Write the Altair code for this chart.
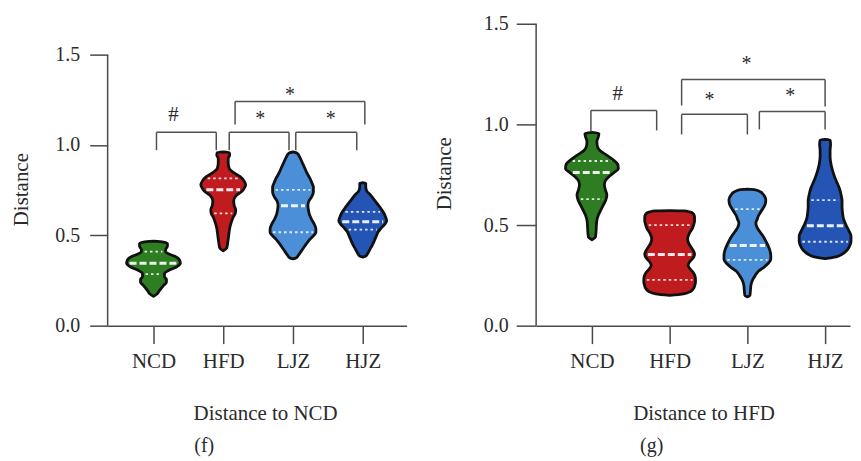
import altair as alt
import numpy as np
import pandas as pd

GROUPS = ["NCD", "HFD", "LJZ", "HJZ"]
COLORS = ["#2e7d22", "#c01c1f", "#4b8fd9", "#2454b4"]
Y_TICKS = [0.0, 0.5, 1.0, 1.5]

# ---------------- panel (f): Distance to NCD ----------------
# violin outlines: distance value -> relative half width (density)
f_ncd_v = [0.468, 0.463, 0.455, 0.44, 0.425, 0.41, 0.398, 0.385, 0.365, 0.345, 0.325, 0.305, 0.288, 0.272, 0.255, 0.24, 0.222, 0.205, 0.19, 0.175, 0.162]
f_ncd_w = [0, 10, 14, 14, 12.5, 12, 15, 21, 26, 27, 23, 15, 11, 11, 13, 13, 10, 7.5, 5.5, 3.5, 0]
f_hfd_v = [0.962, 0.958, 0.945, 0.925, 0.9, 0.87, 0.845, 0.825, 0.8, 0.78, 0.76, 0.745, 0.72, 0.69, 0.665, 0.64, 0.62, 0.6, 0.57, 0.54, 0.5, 0.46, 0.43, 0.414]
f_hfd_w = [0, 6, 6.5, 5, 5, 6, 11, 17, 21, 22.5, 21, 19, 13, 10.5, 11, 12.5, 12, 10, 8, 6.5, 5.5, 4.5, 3.5, 0]
f_ljz_v = [0.962, 0.955, 0.93, 0.9, 0.87, 0.845, 0.815, 0.79, 0.765, 0.74, 0.715, 0.69, 0.665, 0.64, 0.615, 0.59, 0.56, 0.535, 0.515, 0.495, 0.475, 0.45, 0.43, 0.41, 0.39, 0.375, 0.37]
f_ljz_w = [0, 4, 7, 9.5, 12, 14, 17, 19, 20.5, 20.5, 19, 16, 15, 15.5, 16.5, 18.5, 21.5, 23, 23, 20, 16.5, 13, 10.5, 8, 5.5, 3, 0]
f_hjz_v = [0.792, 0.788, 0.77, 0.745, 0.725, 0.7, 0.675, 0.65, 0.625, 0.6, 0.58, 0.56, 0.54, 0.52, 0.5, 0.475, 0.45, 0.425, 0.4, 0.385, 0.379]
f_hjz_w = [0, 3, 3, 4, 7.5, 11, 14.5, 18, 21, 23, 24, 22, 18.5, 15.5, 14, 12, 10, 7.5, 5, 3, 0]
# quartile lines (upper quartile, median, lower quartile)
f_quart = [[0.41, 0.345, 0.285], [0.815, 0.752, 0.622], [0.752, 0.664, 0.517], [0.63, 0.575, 0.531]]
# brackets: left end, right end, bar level, left leg bottom, right leg bottom
f_br_x1 = [0.043, 1.086, 2.04, 1.17]
f_br_x2 = [0.9, 1.943, 2.914, 3.03]
f_br_y = [1.07, 1.07, 1.07, 1.241]
f_br_b1 = [0.971, 0.971, 0.971, 1.114]
f_br_b2 = [0.971, 0.971, 0.971, 1.114]
f_sym = ["#", "*", "*", "*"]
f_sym_x = [0.286, 1.53, 2.54, 1.957]
f_sym_y = [1.172, 1.164, 1.164, 1.296]

# ---------------- panel (g): Distance to HFD ----------------
g_ncd_v = [0.96, 0.955, 0.94, 0.915, 0.89, 0.87, 0.85, 0.825, 0.8, 0.78, 0.76, 0.74, 0.72, 0.7, 0.675, 0.65, 0.625, 0.6, 0.575, 0.55, 0.525, 0.5, 0.46, 0.44, 0.427]
g_ncd_w = [0, 7, 6.5, 5, 5.5, 8, 14, 21, 26, 26.5, 22, 17, 13.5, 12.5, 13.5, 15, 14, 11.5, 9, 6.5, 5, 4.5, 4, 3.5, 0]
g_hfd_v = [0.572, 0.57, 0.565, 0.555, 0.54, 0.52, 0.5, 0.48, 0.465, 0.45, 0.43, 0.41, 0.39, 0.37, 0.355, 0.34, 0.32, 0.3, 0.285, 0.265, 0.245, 0.225, 0.205, 0.185, 0.17, 0.158, 0.15]
g_hfd_w = [0, 14, 20, 24, 25, 25, 24, 22.5, 20.5, 19, 18, 19, 21.5, 24, 25, 24, 20.5, 18.5, 20, 23.5, 25.5, 26, 25.5, 24, 21, 14, 0]
g_ljz_v = [0.678, 0.675, 0.665, 0.645, 0.625, 0.605, 0.585, 0.565, 0.545, 0.53, 0.51, 0.49, 0.47, 0.45, 0.425, 0.4, 0.375, 0.35, 0.33, 0.31, 0.29, 0.27, 0.25, 0.23, 0.2, 0.17, 0.15, 0.143]
g_ljz_w = [0, 8, 13, 17, 18.5, 18, 16, 13.5, 11, 10, 8.5, 9.5, 12, 15, 18, 20.5, 22.5, 23.5, 23.5, 21, 16.5, 11, 8, 5.5, 3.5, 3, 2.5, 0]
g_hjz_v = [0.926, 0.922, 0.9, 0.87, 0.84, 0.8, 0.77, 0.74, 0.71, 0.68, 0.65, 0.62, 0.59, 0.56, 0.53, 0.5, 0.47, 0.445, 0.42, 0.395, 0.375, 0.355, 0.342, 0.333]
g_hjz_w = [0, 5, 5.5, 5, 5, 6, 7.5, 9.5, 12, 14.5, 16, 17, 17, 17.5, 18.5, 21, 24, 26, 26, 24.5, 22, 17, 11, 0]
g_quart = [[0.818, 0.761, 0.629], [0.50, 0.353, 0.228], [0.579, 0.398, 0.327], [0.624, 0.497, 0.417]]
g_br_x1 = [-0.013, 1.154, 2.154, 1.154]
g_br_x2 = [0.833, 2.0, 3.0, 3.0]
g_br_y = [1.069, 1.05, 1.064, 1.223]
g_br_b1 = [0.965, 0.95, 0.975, 1.094]
g_br_b2 = [0.970, 0.95, 0.975, 1.089]
g_sym = ["#", "*", "*", "*"]
g_sym_x = [0.333, 1.513, 2.551, 1.987]
g_sym_y = [1.155, 1.139, 1.158, 1.317]

SERIF = "Liberation Serif"
INK = "#2b2b2b"
AXIS_GREY = "#4a4a4a"
AXIS_STYLE = dict(
    labelFont=SERIF, labelColor=INK, titleFont=SERIF, titleFontSize=21,
    titleFontWeight="normal", titleColor=INK, domainColor=AXIS_GREY,
    tickColor=AXIS_GREY, domainWidth=1.5, tickWidth=1.5, grid=False,
)


def panel(profiles, quart, brx1, brx2, bry, brb1, brb2, sym, symx, symy,
          ppu, xdom, ydom, width, height, xtitle, xtitle_xy, ytitle_xy,
          tick_y, lab_pad_y, label, label_xy):
    rows, qrows = [], []
    for i, (vals, wids) in enumerate(profiles):
        for v, w in zip(vals, wids):
            rows.append({"group": GROUPS[i], "v": v,
                         "left": i - w / ppu, "right": i + w / ppu})
        vv = np.array(vals[::-1])
        ww = np.array(wids[::-1])
        for j, q in enumerate(quart[i]):
            hw = max(float(np.interp(q, vv, ww)) - 3.0, 1.0) / ppu
            qrows.append({"group": GROUPS[i], "q": q, "kind": "median" if j == 1 else "quartile",
                          "l": i - hw, "r": i + hw})
    vdf = pd.DataFrame(rows)
    qdf = pd.DataFrame(qrows)

    seg = []
    for a, b, y, b1, b2 in zip(brx1, brx2, bry, brb1, brb2):
        seg.append({"x": a, "x2": b, "y": y, "y2": y})
        seg.append({"x": a, "x2": a, "y": b1, "y2": y})
        seg.append({"x": b, "x2": b, "y": b2, "y2": y})
    sdf = pd.DataFrame(seg)
    tdf = pd.DataFrame({"s": sym, "x": symx, "y": symy})

    xs = alt.Scale(domain=xdom, nice=False, zero=False)
    ys = alt.Scale(domain=ydom, nice=False, zero=False)
    cs = alt.Scale(domain=GROUPS, range=COLORS)
    yax = alt.Axis(values=Y_TICKS, format=".1f", domain=False, labelFontSize=20,
                   tickSize=tick_y, labelPadding=lab_pad_y, title="Distance",
                   titleX=ytitle_xy[0], titleY=ytitle_xy[1], titleBaseline="middle",
                   **AXIS_STYLE)
    xax = alt.Axis(values=[0, 1, 2, 3], labelExpr="['NCD','HFD','LJZ','HJZ'][datum.value]",
                   labelFontSize=21, tickSize=18, labelPadding=7, title=xtitle,
                   titleX=xtitle_xy[0], titleY=xtitle_xy[1], titleBaseline="middle",
                   **AXIS_STYLE)

    def X(f):
        return alt.X(f, scale=xs, axis=xax, title=xtitle)

    def Y(f):
        return alt.Y(f, scale=ys, axis=yax, title="Distance")

    violins = alt.Chart(vdf).mark_area(
        orient="horizontal", interpolate="monotone", stroke="#111111",
        strokeWidth=2.8, strokeJoin="round"
    ).encode(
        y=Y("v:Q"), x=X("left:Q"), x2="right:Q",
        color=alt.Color("group:N", scale=cs, legend=None),
        detail="group:N",
    )

    med = alt.Chart(qdf).transform_filter(alt.datum.kind == "median").mark_rule(
        color="white", strokeWidth=3, strokeDash=[7, 3], opacity=0.9
    ).encode(y=Y("q:Q"), x=X("l:Q"), x2="r:Q")
    qs = alt.Chart(qdf).transform_filter(alt.datum.kind == "quartile").mark_rule(
        color="white", strokeWidth=1.8, strokeDash=[2.5, 3], opacity=0.85
    ).encode(y=Y("q:Q"), x=X("l:Q"), x2="r:Q")

    yline = alt.Chart(pd.DataFrame({"a": [Y_TICKS[0]], "b": [Y_TICKS[-1]]})).mark_rule(
        color=AXIS_GREY, strokeWidth=1.5
    ).encode(x=alt.value(0), y=Y("a:Q"), y2="b:Q")

    brackets = alt.Chart(sdf).mark_rule(color="#505050", strokeWidth=1.5).encode(
        x=X("x:Q"), x2="x2:Q", y=Y("y:Q"), y2="y2:Q")

    hashes = alt.Chart(tdf).transform_filter(alt.datum.s == "#").mark_text(
        font=SERIF, fontSize=21, color=INK, baseline="middle", dy=1).encode(
        x=X("x:Q"), y=Y("y:Q"), text="s:N")
    stars = alt.Chart(tdf).transform_filter(alt.datum.s == "*").mark_text(
        font=SERIF, fontSize=20, color=INK, baseline="middle", dy=3.5).encode(
        x=X("x:Q"), y=Y("y:Q"), text="s:N")

    lab = alt.Chart(pd.DataFrame({"t": [label]})).mark_text(
        font=SERIF, fontSize=20, color=INK, baseline="middle"
    ).encode(x=alt.value(label_xy[0]), y=alt.value(label_xy[1]), text="t:N")

    return alt.layer(violins, med, qs, yline, brackets, hashes, stars, lab).properties(
        width=width, height=height)


f_profiles = [(f_ncd_v, f_ncd_w), (f_hfd_v, f_hfd_w), (f_ljz_v, f_ljz_w), (f_hjz_v, f_hjz_w)]
g_profiles = [(g_ncd_v, g_ncd_w), (g_hfd_v, g_hfd_w), (g_ljz_v, g_ljz_w), (g_hjz_v, g_hjz_w)]

H = 303
f_chart = panel(f_profiles, f_quart, f_br_x1, f_br_x2, f_br_y, f_br_b1, f_br_b2,
                f_sym, f_sym_x, f_sym_y, 70, [-46 / 70, 254 / 70], [0, 1.5 * 303 / 272],
                300, H, "Distance to NCD", (158, 88), (-86, 166), 18, 10, "(f)", (97, 424))
g_chart = panel(g_profiles, g_quart, g_br_x1, g_br_x2, g_br_y, g_br_b1, g_br_b2,
                g_sym, g_sym_x, g_sym_y, 78, [-56 / 78, 259 / 78], [0, 1.5],
                315, H, "Distance to HFD", (168, 88.5), (-92, 150), 20, 8, "(g)", (116, 424))

chart = alt.hconcat(f_chart, g_chart, spacing=130, bounds="flush").properties(
    padding={"left": 3, "top": 5, "right": 0, "bottom": 0}
).configure_view(stroke=None)

chart.save("out.html", embed_options={"renderer": "svg", "actions": False})
